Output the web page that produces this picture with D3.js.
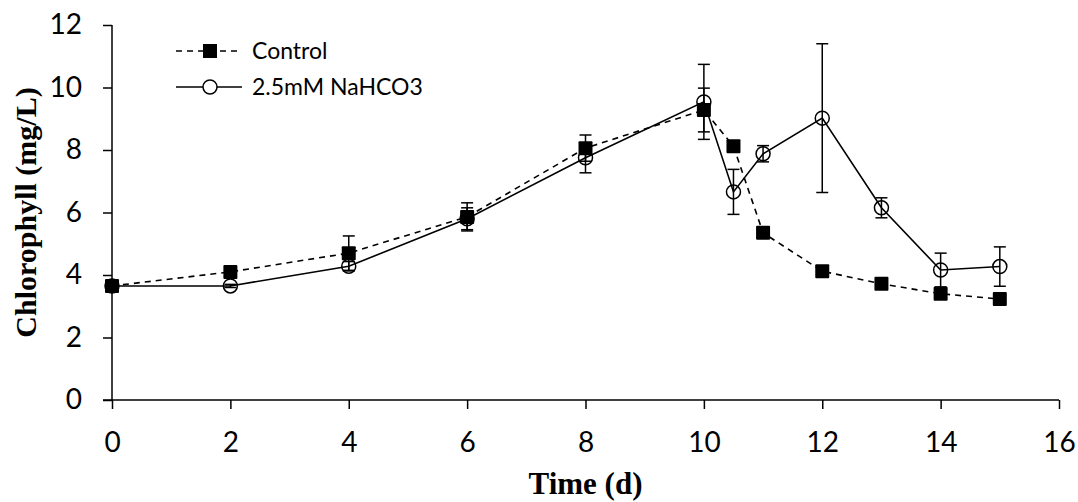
<!DOCTYPE html>
<html>
<head>
<meta charset="utf-8">
<script src="https://cdn.jsdelivr.net/npm/d3@7"></script>
<style>
  body { margin: 0; background: #fff; }
  svg { display: block; }
</style>
</head>
<body>
<div id="chart"></div>
<script>
// time points (days)
const days = [0, 2, 4, 6, 8, 10, 10.5, 11, 12, 13, 14, 15];

// Control
const controlMean = [3.65, 4.1, 4.7, 5.86, 8.06, 9.28, 8.12, 5.35, 4.12, 3.72, 3.4, 3.23];
const controlErr  = [0.05, 0.08, 0.55, 0.45, 0.42, 0.7, 0.1, 0.1, 0.08, 0.08, 0.08, 0.08];

// 2.5mM NaHCO3
const bicarbMean = [3.65, 3.65, 4.28, 5.8, 7.75, 9.54, 6.66, 7.88, 9.02, 6.15, 4.16, 4.27];
const bicarbErr  = [0.05, 0.05, 0.15, 0.35, 0.48, 1.2, 0.72, 0.26, 2.38, 0.32, 0.54, 0.63];

const xTicks = [0, 2, 4, 6, 8, 10, 12, 14, 16];
const yTicks = [0, 2, 4, 6, 8, 10, 12];

const width = 1078, height = 502;
const margin = { left: 112, right: 19, top: 25, bottom: 102 };

const svg = d3.select('#chart').append('svg')
  .attr('width', width)
  .attr('height', height);

const x = d3.scaleLinear().domain([0, 16]).range([margin.left, width - margin.right]);
const y = d3.scaleLinear().domain([0, 12]).range([height - margin.bottom, margin.top]);

const tickFont = 'Lato, "Open Sans", sans-serif';
const titleFont = '"Liberation Serif", "Times New Roman", serif';

// axes
const xAxis = svg.append('g')
  .attr('transform', `translate(0,${y(0)})`)
  .call(d3.axisBottom(x).tickValues(xTicks).tickSize(9).tickPadding(23).tickFormat(d3.format('d')));
const yAxis = svg.append('g')
  .attr('transform', `translate(${x(0)},0)`)
  .call(d3.axisLeft(y).tickValues(yTicks).tickSize(9).tickPadding(21).tickFormat(d3.format('d')));

[xAxis, yAxis].forEach(g => {
  g.attr('font-size', null).attr('font-family', null);
  g.select('.domain').attr('stroke', '#000').attr('stroke-width', 1.5);
  g.selectAll('.tick line').attr('stroke', '#000').attr('stroke-width', 1.5);
  g.selectAll('.tick text')
    .attr('fill', '#000')
    .attr('font-family', tickFont)
    .attr('font-size', 28);
});
// outer path ends
xAxis.select('.domain').attr('d', `M${x(0) - 9},0H${x(16)}`);
yAxis.select('.domain').attr('d', `M0,${y(12)}V${y(0)}`);

// axis titles
svg.append('text')
  .attr('x', (x(0) + x(16)) / 2)
  .attr('y', 494)
  .attr('text-anchor', 'middle')
  .attr('font-family', titleFont)
  .attr('font-weight', 'bold')
  .attr('font-size', 31)
  .text('Time (d)');

svg.append('text')
  .attr('transform', `translate(36,${(y(0) + y(12)) / 2}) rotate(-90)`)
  .attr('text-anchor', 'middle')
  .attr('font-family', titleFont)
  .attr('font-weight', 'bold')
  .attr('font-size', 30)
  .text('Chlorophyll (mg/L)');

const series = [
  { name: 'Control', mean: controlMean, err: controlErr, dash: '6,5', marker: 'square' },
  { name: '2.5mM NaHCO3', mean: bicarbMean, err: bicarbErr, dash: null, marker: 'circle' }
];

const line = d3.line().x(d => x(d[0])).y(d => y(d[1]));

// circles first, squares drawn over them
const order = [series[1], series[0]];

order.forEach(s => {
  const pts = days.map((d, i) => [d, s.mean[i], s.err[i]]);
  const g = svg.append('g');

  g.append('path')
    .datum(pts)
    .attr('d', line)
    .attr('fill', 'none')
    .attr('stroke', '#000')
    .attr('stroke-width', 1.6)
    .attr('stroke-dasharray', s.dash);

  // error bars
  const eb = g.selectAll('.eb').data(pts).join('g');
  eb.append('line')
    .attr('x1', d => x(d[0])).attr('x2', d => x(d[0]))
    .attr('y1', d => y(d[1] - d[2])).attr('y2', d => y(d[1] + d[2]))
    .attr('stroke', '#000').attr('stroke-width', 1.5);
  eb.selectAll('.cap').data(d => [[d[0], d[1] - d[2]], [d[0], d[1] + d[2]]]).join('line')
    .attr('x1', d => x(d[0]) - 6).attr('x2', d => x(d[0]) + 6)
    .attr('y1', d => y(d[1])).attr('y2', d => y(d[1]))
    .attr('stroke', '#000').attr('stroke-width', 1.5);

  if (s.marker === 'square') {
    g.selectAll('.m').data(pts).join('rect')
      .attr('x', d => x(d[0]) - 7).attr('y', d => y(d[1]) - 7)
      .attr('width', 14).attr('height', 14)
      .attr('rx', 1)
      .attr('fill', '#000');
  } else {
    g.selectAll('.m').data(pts).join('circle')
      .attr('cx', d => x(d[0])).attr('cy', d => y(d[1]))
      .attr('r', 7)
      .attr('fill', 'none')
      .attr('stroke', '#000')
      .attr('stroke-width', 1.5);
  }
});

// legend
const legend = svg.append('g');
series.forEach((s, i) => {
  const ly = 51 + i * 36;
  legend.append('line')
    .attr('x1', 176).attr('x2', 242)
    .attr('y1', ly).attr('y2', ly)
    .attr('stroke', '#000').attr('stroke-width', 1.6)
    .attr('stroke-dasharray', s.dash);
  if (s.marker === 'square') {
    legend.append('rect')
      .attr('x', 203).attr('y', ly - 7).attr('width', 14).attr('height', 14)
      .attr('fill', '#000');
  } else {
    legend.append('circle')
      .attr('cx', 210).attr('cy', ly).attr('r', 7)
      .attr('fill', '#fff').attr('stroke', '#000').attr('stroke-width', 1.5);
  }
  legend.append('text')
    .attr('x', 252).attr('y', ly + 8)
    .attr('font-family', tickFont)
    .attr('font-size', 23)
    .text(s.name);
});
</script>
</body>
</html>
